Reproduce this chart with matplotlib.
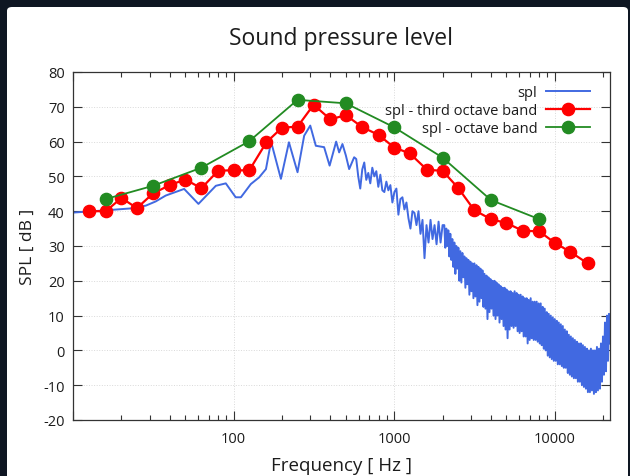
#!/usr/bin/env python3
"""
plot the sound pressure level spectrum together with its
third octave band and octave band levels (gnuplot look-alike)
"""
import numpy
import matplotlib
matplotlib.use("Agg")
from matplotlib import pyplot as plt
from matplotlib.patches import FancyBboxPatch
from matplotlib.ticker import LogLocator, NullFormatter, FixedLocator

plt.rcParams['font.family'] = ['Open Sans', 'DejaVu Sans']
plt.rcParams['axes.unicode_minus'] = False

# third octave band centres [Hz] and levels [dB]
third_freq = [12.5, 16, 20, 25, 31.5, 40, 50, 63, 80, 100, 125, 160, 200, 250, 315, 400,
              500, 630, 800, 1000, 1250, 1600, 2000, 2500, 3150, 4000, 5000, 6300, 8000,
              10000, 12500, 16000]
third_spl = [40.0, 40.0, 43.8, 40.9, 45.1, 47.5, 49.1, 46.6, 51.6, 51.8, 51.7, 59.8, 64.0,
             64.3, 70.6, 66.4, 67.6, 64.2, 61.9, 58.3, 56.6, 51.9, 51.6, 46.7, 40.3, 37.7,
             36.6, 34.4, 34.2, 30.9, 28.3, 25.0]

# octave band centres [Hz] and levels [dB]
oct_freq = [16, 31.5, 63, 125, 250, 500, 1000, 2000, 4000, 8000]
oct_spl = [43.5, 47.3, 52.5, 60.1, 72.0, 71.0, 64.1, 55.4, 43.2, 37.7]

# raw spectrum, low part (read point by point)
spl_freq_low = [10, 15.4, 22.9, 28.4, 32.7, 37.8, 49.2, 60.4, 77.5, 89.4, 103, 111, 128, 144,
                159, 171, 197, 221, 250, 275, 300, 325, 366, 396, 435, 454, 476, 500, 524, 563]
spl_low = [39.6, 40.2, 40.8, 41.6, 42.8, 44.5, 46.4, 42.1, 47.3, 48.0, 44.0, 44.0, 47.8, 49.7,
           52.1, 60.0, 49.3, 59.8, 51.2, 61.7, 64.6, 58.8, 58.4, 53.1, 60.0, 56.9, 59.3, 56.0,
           52.1, 55.5]

# raw spectrum, 580 Hz .. 2 kHz (one value every ~2 px on the log axis)
spl_mid = [55, 50, 46.5, 52, 54, 49, 51, 48, 52.5, 50,
           51.5, 47, 50.5, 46, 45.5, 48.5, 46, 47.5, 42.5, 45.5,
           46.5, 39, 43.5, 44, 40.5, 42.5, 38, 35, 40, 39.5,
           36, 40, 33.5, 37.5, 26.5, 36, 31, 37.5, 32, 36,
           30.5, 37, 31, 36]

# raw spectrum, 2.05 kHz .. 22.05 kHz (dense, noisy)
spl_high = [36, 29.5, 35, 30, 34.5, 27, 33.5, 26, 32, 24,
            31, 22, 30, 23.5, 29.5, 20, 28.5, 19.5, 28, 21,
            27, 18, 26.5, 19, 26, 16, 25.5, 17, 25, 15,
            25, 15.5, 24.5, 13, 24, 14, 23.5, 15, 23, 12.5,
            22, 12, 21.5, 9, 21, 11, 20.5, 12, 20, 10,
            20, 9, 19.5, 10, 19, 8, 18.5, 9, 18, 7,
            18, 6, 17.5, 3.5, 17, 6, 17, 7, 16.5, 6.5,
            17, 7, 16.5, 5.5, 16, 5, 16, 5.5, 15.5, 4,
            15, 4, 15, 2, 14.5, 3, 15, 3.5, 14, 3,
            14, 3, 14, 2.5, 13.5, 2, 13.5, 1.5, 12.5, 0.5,
            12, 0, 11, -1.5, 10.5, -2, 10, -2.5, 9.5, -3,
            9, -3, 8.5, -4, 8, -4, 7.5, -4.5, 7, -5,
            6, -5, 5.5, -6.5, 4.5, -7, 4, -7.5, 3.5, -8,
            3, -8, 2.5, -9, 2, -9, 2, -10, 1.5, -10.5,
            1, -11, 0.5, -12, 0, -12, 0.5, -11.5, 0, -12.5,
            0, -12, 1, -11.5, 0.5, -11, 2, -9, 4, -7,
            8, -6, 10, -3, 10.5, 2]

# bin frequencies of the two dense parts (log spaced like the picture's pixels)
spl_freq_mid = numpy.geomspace(580, 2000, len(spl_mid))
spl_freq_high = numpy.geomspace(2050, 22050, len(spl_high))

spl_freq = numpy.concatenate([spl_freq_low, spl_freq_mid, spl_freq_high])
spl = numpy.concatenate([spl_low, spl_mid, spl_high])

TXT = '#1c1c1c'


def plot_spl():
    fig = plt.figure(figsize=(6.3, 4.77), dpi=100, facecolor='#0e1622')
    # white "window" inside the dark screenshot border
    win = FancyBboxPatch((7 / 630, -0.05), 621 / 630, (477 - 8) / 477 + 0.05,
                         boxstyle="round,pad=0,rounding_size=0.008",
                         transform=fig.transFigure, facecolor='white',
                         edgecolor='none', zorder=-10)
    fig.add_artist(win)

    ax = fig.add_axes([73 / 630, (477 - 421) / 477, (610 - 73) / 630, (421 - 73) / 477])
    ax.set_facecolor('white')
    ax.set_zorder(1)

    ax.plot(spl_freq, spl, color='#4169e1', linewidth=1.4, label='spl', zorder=2)
    ax.plot(third_freq, third_spl, color='#ff0000', linewidth=1.6, marker='o',
            markersize=8.8, label='spl - third octave band', zorder=3)
    ax.plot(oct_freq, oct_spl, color='#228b22', linewidth=1.3, marker='o',
            markersize=8.8, label='spl - octave band', zorder=4)

    # axes
    ax.set_xscale('log')
    ax.set_xlim(10, 22050)
    ax.set_ylim(-20, 80)
    ax.xaxis.set_major_locator(FixedLocator([10, 100, 1000, 10000]))
    ax.set_xticklabels(['', '100', '1000', '10000'])
    ax.xaxis.set_minor_locator(LogLocator(base=10, subs=numpy.arange(2, 10)))
    ax.xaxis.set_minor_formatter(NullFormatter())
    ax.set_yticks(numpy.arange(-20, 81, 10))

    ax.tick_params(which='both', direction='in', top=True, right=True, colors='#333333',
                   labelcolor=TXT, labelsize=10.5)
    ax.tick_params(which='major', length=6.5, width=0.8, pad=6)
    ax.tick_params(which='minor', length=3.5, width=0.8)
    ax.tick_params(axis='x', which='major', pad=8)
    for s in ax.spines.values():
        s.set_color('#333333')
        s.set_linewidth(0.9)

    ax.grid(True, which='major', color='#d9d9d9', linestyle=':', linewidth=0.7)
    ax.set_axisbelow(True)

    ax.set_xlabel('Frequency [ Hz ]', fontsize=13.5, color=TXT, labelpad=7)
    ax.set_ylabel('SPL [ dB ]', fontsize=12.5, color=TXT, labelpad=5)
    fig.text(341 / 630, (477 - 39) / 477, 'Sound pressure level', fontsize=16.5,
             color=TXT, ha='center', va='center')

    ax.legend(loc='upper right', bbox_to_anchor=(0.973, 0.978), borderaxespad=0,
              frameon=False, markerfirst=False, fontsize=10.5, handlelength=3.0,
              labelspacing=0.2, handletextpad=0.6, labelcolor=TXT)

    fig.savefig('out.png', dpi=100, facecolor=fig.get_facecolor())
    plt.close('all')


if __name__ == '__main__':
    plot_spl()
